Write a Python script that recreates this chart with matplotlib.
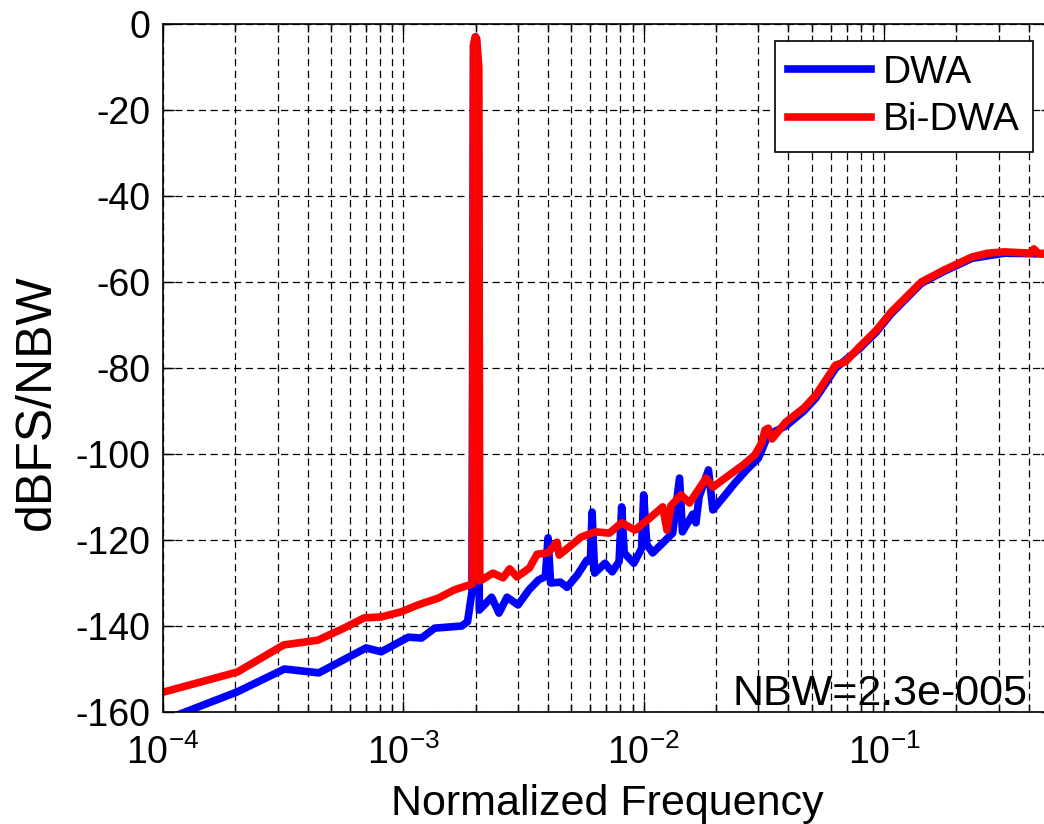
import matplotlib
matplotlib.use('Agg')
import matplotlib.pyplot as plt
from matplotlib.ticker import LogLocator, LogFormatterMathtext, NullFormatter

# DWA spectrum (normalized frequency, dBFS/NBW)
dwa_f = [1.0e-4, 2.04e-4, 3.2e-4, 4.45e-4, 7.0e-4, 8.09e-4, 1.05e-3, 1.19e-3, 1.35e-3,
         1.75e-3, 1.85e-3, 1.93e-3, 1.96e-3, 2.0e-3, 2.05e-3, 2.07e-3, 2.33e-3, 2.5e-3,
         2.7e-3, 3.0e-3, 3.33e-3, 3.65e-3, 3.9e-3, 4.0e-3, 4.1e-3, 4.5e-3, 4.8e-3, 5.3e-3,
         5.8e-3, 6.0e-3, 6.1e-3, 6.25e-3, 6.9e-3, 7.4e-3, 7.9e-3, 8.1e-3, 8.3e-3, 9.1e-3,
         9.8e-3, 1.0e-2, 1.03e-2, 1.09e-2, 1.2e-2, 1.32e-2, 1.41e-2, 1.45e-2, 1.6e-2,
         1.65e-2, 1.7e-2, 1.86e-2, 1.94e-2, 2.15e-2, 2.4e-2, 2.7e-2, 3.0e-2, 3.3e-2,
         3.9e-2, 4.64e-2, 5.2e-2, 6.3e-2, 7.9e-2, 9.3e-2, 1.07e-1, 1.43e-1, 1.78e-1,
         2.32e-1, 3.17e-1, 5.0e-1]
dwa_db = [-162, -155.3, -150, -150.9, -145.1, -146, -142.6, -142.8, -140.5,
          -140, -139, -132, -5, -3, -10, -136.3, -133.3, -137,
          -133.3, -135.1, -131.6, -129.3, -128.5, -119.5, -130, -129.8, -131, -128.1,
          -124.7, -125, -113.5, -127.7, -125.4, -127.4, -125, -112.3, -123, -125.4,
          -122, -109.5, -121, -123, -120.7, -118.4, -105.6, -118.1, -114,
          -116, -110, -103.7, -113, -110, -106.7, -103.5, -101, -95.5,
          -93.5, -90, -87, -80, -75.5, -71.6, -67.4, -60.3, -57.5,
          -54.5, -53.3, -53.5]

# Bi-DWA spectrum
bidwa_f = [1.0e-4, 2.04e-4, 3.18e-4, 4.41e-4, 5.66e-4, 6.88e-4, 8.09e-4, 9.8e-4, 1.15e-3,
           1.40e-3, 1.63e-3, 1.87e-3, 1.94e-3, 1.96e-3, 1.99e-3, 2.02e-3, 2.06e-3, 2.08e-3,
           2.12e-3, 2.36e-3, 2.6e-3, 2.77e-3, 2.97e-3, 3.35e-3, 3.6e-3, 4.0e-3, 4.36e-3,
           4.45e-3, 4.9e-3, 5.5e-3, 6.3e-3, 7.2e-3, 8.1e-3, 9.2e-3, 1.06e-2, 1.2e-2,
           1.25e-2, 1.3e-2, 1.43e-2, 1.55e-2, 1.82e-2, 1.94e-2, 2.27e-2, 2.6e-2, 2.9e-2,
           3.1e-2, 3.2e-2, 3.3e-2, 3.42e-2, 3.9e-2, 4.64e-2, 5.2e-2, 6.3e-2, 6.9e-2,
           7.9e-2, 9.3e-2, 1.07e-1, 1.43e-1, 1.78e-1, 2.32e-1, 2.7e-1, 3.17e-1, 4.1e-1,
           4.2e-1, 4.4e-1, 5.0e-1]
bidwa_db = [-155.4, -150.7, -144.4, -143.3, -140.5, -138.1, -137.9, -136.7, -135.1,
            -133.5, -131.6, -130.5, -130.2, -5, -3, -3.5, -10, -129.5,
            -129.3, -127.7, -128.8, -126.7, -128.6, -126.5, -123.3, -123, -120.5,
            -123.5, -121.6, -119.3, -118.1, -118.4, -116, -117.7, -114.9, -112.3,
            -117.7, -112, -109.5, -111.4, -105.6, -107.7, -104.9, -102.5, -100.2,
            -97.4, -94.4, -94, -96.5, -92.6, -89.3, -86.3, -79.3, -78.6,
            -75.1, -71.2, -67, -60, -57.2, -54.2, -53.3, -53, -53.3,
            -52.3, -53.4, -53.2]

yticks = [-160, -140, -120, -100, -80, -60, -40, -20, 0]

plt.rcParams['font.family'] = ['Liberation Sans', 'DejaVu Sans']
plt.rcParams['mathtext.fontset'] = 'custom'
plt.rcParams['mathtext.rm'] = 'Liberation Sans'
plt.rcParams['mathtext.it'] = 'Liberation Sans:italic'
plt.rcParams['mathtext.bf'] = 'Liberation Sans:bold'
plt.rcParams['axes.unicode_minus'] = False

fig = plt.figure(figsize=(10.44, 8.24), dpi=100)
ax = fig.add_axes([163/1044, 1 - 712/824, (1052 - 163)/1044, (712 - 24)/824])

ax.semilogx(dwa_f, dwa_db, color='#0000ff', lw=5.5, label='DWA', solid_joinstyle='round')
ax.semilogx(bidwa_f, bidwa_db, color='#ff0000', lw=5.5, label='Bi-DWA', solid_joinstyle='round')

ax.set_xlim(1e-4, 0.5)
ax.set_ylim(-160, 0)
ax.set_yticks(yticks)
ax.xaxis.set_major_locator(LogLocator(base=10, numticks=10))
ax.xaxis.set_minor_locator(LogLocator(base=10, subs=range(2, 10), numticks=20))
ax.xaxis.set_major_formatter(LogFormatterMathtext())
ax.xaxis.set_minor_formatter(NullFormatter())

ax.grid(True, which='major', axis='both', color='k', lw=0.9, linestyle=(0, (5.8, 3.6)))
ax.grid(True, which='minor', axis='x', color='k', lw=0.9, linestyle=(0, (5.8, 3.6)))

ax.tick_params(which='both', direction='in', top=True, right=True, width=1)
ax.tick_params(which='major', length=8, labelsize=27)
ax.tick_params(which='minor', length=6)
ax.tick_params(axis='x', which='major', pad=16)
ax.tick_params(axis='y', which='major', pad=9)
for s in ax.spines.values():
    s.set_linewidth(1.2)

ax.set_xlabel('Normalized Frequency', fontsize=31, labelpad=9)
ax.set_ylabel('dBFS/NBW', fontsize=36)
ax.yaxis.set_label_coords(-0.116, 0.45)

leg = ax.legend(loc='upper right', bbox_to_anchor=(1033/1044, 1 - 41/824),
                bbox_transform=fig.transFigure, fontsize=28, fancybox=False,
                framealpha=1, edgecolor='k', borderaxespad=0, borderpad=0.35,
                labelspacing=0.3, handlelength=2.13, handletextpad=0.3)
leg.get_frame().set_linewidth(1.2)

fig.text(1028/1044, 1 - 705/824, 'NBW=2.3e-005', fontsize=31, ha='right', va='baseline')

fig.savefig('out.png', dpi=100)
